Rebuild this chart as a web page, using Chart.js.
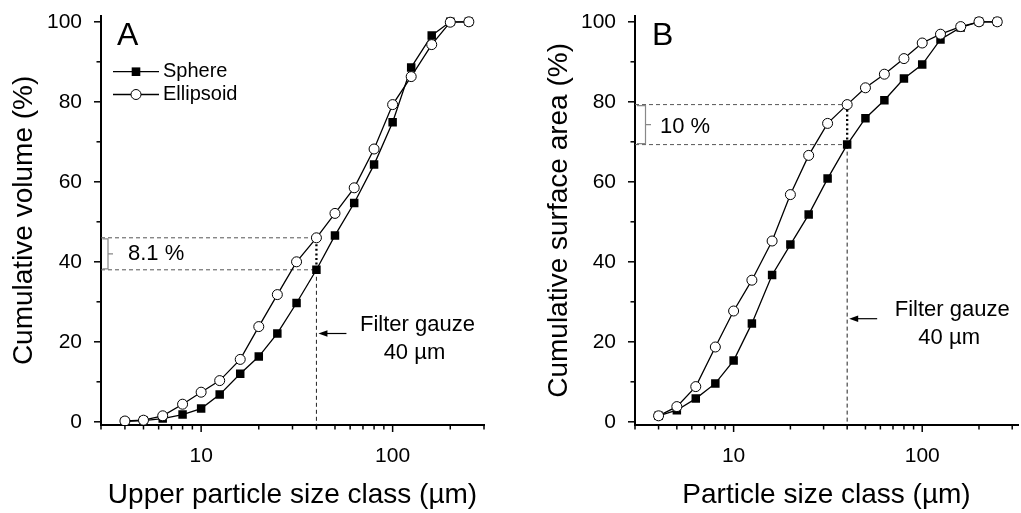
<!DOCTYPE html>
<html>
<head>
<meta charset="utf-8">
<script src="https://cdn.jsdelivr.net/npm/chart.js@4.4.1/dist/chart.umd.min.js"></script>
<style>
html, body { margin: 0; padding: 0; background: #fff; }
#wrap { position: relative; width: 1021px; height: 513px; }
canvas { position: absolute; top: 0; }
</style>
</head>
<body>
<div id="wrap">
  <canvas id="panelA" width="510" height="513" style="left:0"></canvas>
  <canvas id="panelB" width="511" height="513" style="left:510px"></canvas>
</div>
<script>
// size classes (µm)
const sizeClasses = [4, 5, 6.3, 8, 10, 12.5, 16, 20, 25, 31.5, 40, 50, 63, 80, 100, 125, 160, 200, 250];

// A - cumulative volume (%)
const volSphere    = [0.1, 0.3, 0.8, 1.8, 3.3, 6.8, 12.0, 16.3, 22.1, 29.7, 38.0, 46.6, 54.7, 64.3, 74.9, 88.6, 96.6, 100, 100];
const volEllipsoid = [0.2, 0.4, 1.5, 4.4, 7.4, 10.3, 15.6, 23.8, 31.8, 40.0, 46.0, 52.1, 58.5, 68.2, 79.3, 86.3, 94.3, 99.9, 100];

// B - cumulative surface area (%)
const areaSphere    = [1.5, 2.9, 5.8, 9.6, 15.3, 24.6, 36.7, 44.3, 51.8, 60.8, 69.3, 75.9, 80.4, 85.8, 89.3, 95.6, 98.6, 100, 100];
const areaEllipsoid = [1.5, 3.8, 8.8, 18.7, 27.7, 35.4, 45.2, 56.8, 66.6, 74.6, 79.3, 83.5, 86.9, 90.8, 94.7, 96.9, 98.8, 100, 100];

const seriesNames = ["Sphere", "Ellipsoid"];
const xMajorTicks = [10, 100];
const xMinorTicks = [3, 4, 5, 6, 7, 8, 9, 20, 30, 40, 50, 60, 70, 80, 90, 200, 300];
const yMajorTicks = [0, 20, 40, 60, 80, 100];
const yMinorTicks = [10, 30, 50, 70, 90];
const filterSize = 40;

const FONT = "'Liberation Sans', Arial, sans-serif";

function line(ctx, x1, y1, x2, y2) {
    ctx.beginPath();
    ctx.moveTo(x1, y1);
    ctx.lineTo(x2, y2);
    ctx.stroke();
}

const decor = {
    id: "decor",
    beforeDatasetsDraw(chart, args, o) {
        const ctx = chart.ctx, ca = chart.chartArea;
        const x = chart.scales.x, y = chart.scales.y;
        const xf = x.getPixelForValue(filterSize);
        const yLo = y.getPixelForValue(o.lo), yHi = y.getPixelForValue(o.hi);
        ctx.save();
        // dashed guides
        ctx.strokeStyle = "#555";
        ctx.lineWidth = 1;
        ctx.setLineDash([4, 3]);
        line(ctx, ca.left, yHi, xf, yHi);
        line(ctx, ca.left, yLo, xf, yLo);
        ctx.strokeStyle = "#222";
        line(ctx, xf, yLo, xf, ca.bottom);
        // dotted difference
        ctx.strokeStyle = "#000";
        ctx.lineWidth = 2.3;
        ctx.setLineDash([2, 2.6]);
        line(ctx, xf, yLo + 4, xf, yHi + 4);
        ctx.restore();
    },
    afterDraw(chart, args, o) {
        const ctx = chart.ctx, ca = chart.chartArea;
        const x = chart.scales.x, y = chart.scales.y;
        const xf = x.getPixelForValue(filterSize);
        const yLo = y.getPixelForValue(o.lo), yHi = y.getPixelForValue(o.hi);
        ctx.save();
        ctx.setLineDash([]);

        // ticks
        ctx.strokeStyle = "#000";
        ctx.lineWidth = 1.5;
        xMajorTicks.forEach(v => { const p = x.getPixelForValue(v); line(ctx, p, ca.bottom, p, ca.bottom + 7); });
        xMinorTicks.forEach(v => {
            if (v > x.max) return;
            const p = x.getPixelForValue(v); line(ctx, p, ca.bottom, p, ca.bottom + 4.5);
        });
        yMajorTicks.forEach(v => { const p = y.getPixelForValue(v); line(ctx, ca.left - 7, p, ca.left, p); });
        yMinorTicks.forEach(v => { const p = y.getPixelForValue(v); line(ctx, ca.left - 4.5, p, ca.left, p); });

        // bracket
        ctx.strokeStyle = "#888";
        ctx.lineWidth = 1.2;
        const b = o.bracket;
        ctx.beginPath();
        ctx.moveTo(ca.left + b[0], yHi + 1);
        ctx.lineTo(ca.left + b[1], yHi + 1);
        ctx.lineTo(ca.left + b[1], yLo - 1);
        ctx.lineTo(ca.left + b[0], yLo - 1);
        ctx.moveTo(ca.left + b[1], (yHi + yLo) / 2);
        ctx.lineTo(ca.left + b[2], (yHi + yLo) / 2);
        ctx.stroke();

        ctx.fillStyle = "#000";
        ctx.textBaseline = "middle";
        ctx.textAlign = "left";
        ctx.font = "22px " + FONT;
        ctx.fillText(o.diffText, ca.left + o.diffDx, (yHi + yLo) / 2 + o.diffDy);

        // panel letter
        ctx.font = "32px " + FONT;
        ctx.textBaseline = "alphabetic";
        ctx.fillText(o.letter, ca.left + o.letterDx, 45);

        // filter gauze note
        const ty = y.getPixelForValue(o.noteY);
        ctx.font = "22px " + FONT;
        ctx.textAlign = "center";
        ctx.textBaseline = "middle";
        ctx.fillText("Filter gauze", xf + o.noteDx, ty);
        ctx.fillText("40 µm", xf + o.noteDx - 3, ty + 28);
        ctx.strokeStyle = "#000";
        ctx.lineWidth = 1.2;
        const ay = ty + 8.5;
        line(ctx, xf + 30, ay, xf + 8, ay);
        ctx.beginPath();
        ctx.moveTo(xf + 2, ay);
        ctx.lineTo(xf + 11, ay - 3.2);
        ctx.lineTo(xf + 11, ay + 3.2);
        ctx.closePath();
        ctx.fill();

        // legend
        if (o.legend) {
            const rows = [71.7, 94.5];
            chart.data.datasets.forEach((ds, i) => {
                const ry = rows[i];
                ctx.strokeStyle = "#000";
                ctx.lineWidth = 1.3;
                line(ctx, ca.left + 12, ry, ca.left + 58, ry);
                if (ds.pointStyle === "rect") {
                    ctx.fillStyle = "#000";
                    ctx.fillRect(ca.left + 35 - 4.3, ry - 4.3, 8.6, 8.6);
                } else {
                    ctx.beginPath();
                    ctx.arc(ca.left + 35, ry, 5, 0, Math.PI * 2);
                    ctx.fillStyle = "#fff";
                    ctx.fill();
                    ctx.lineWidth = 1;
                    ctx.stroke();
                }
                ctx.fillStyle = "#000";
                ctx.textAlign = "left";
                ctx.font = "20px " + FONT;
                ctx.fillText(ds.label, ca.left + 62, ry);
            });
        }
        ctx.restore();
    }
};

function makePanel(id, cfg) {
    const i40 = sizeClasses.indexOf(filterSize);
    return new Chart(document.getElementById(id), {
        type: "line",
        data: {
            datasets: [
                {
                    label: seriesNames[0],
                    data: sizeClasses.map((s, i) => ({ x: s, y: cfg.sphere[i] })),
                    borderColor: "#000",
                    borderWidth: 1.3,
                    pointStyle: "rect",
                    pointRadius: 6,
                    pointBackgroundColor: "#000",
                    pointBorderColor: "#000",
                    pointBorderWidth: 0,
                    order: 2
                },
                {
                    label: seriesNames[1],
                    data: sizeClasses.map((s, i) => ({ x: s, y: cfg.ellipsoid[i] })),
                    borderColor: "#000",
                    borderWidth: 1.3,
                    pointStyle: "circle",
                    pointRadius: 5,
                    pointBackgroundColor: "#fff",
                    pointBorderColor: "#000",
                    pointBorderWidth: 1,
                    order: 1
                }
            ]
        },
        options: {
            responsive: false,
            animation: false,
            devicePixelRatio: 1,
            layout: { autoPadding: false, padding: { top: 15.8, right: cfg.right, left: 0, bottom: 0 } },
            plugins: {
                legend: { display: false },
                tooltip: { enabled: false },
                decor: {
                    lo: cfg.sphere[i40],
                    hi: cfg.ellipsoid[i40],
                    letter: cfg.letter,
                    letterDx: cfg.letterDx,
                    diffText: cfg.diffText,
                    diffDx: cfg.diffDx,
                    diffDy: cfg.diffDy,
                    bracket: cfg.bracket,
                    noteY: cfg.noteY,
                    noteDx: cfg.noteDx,
                    legend: cfg.legend
                }
            },
            scales: {
                x: {
                    type: "logarithmic",
                    min: 3,
                    max: cfg.xMax,
                    afterBuildTicks(s) { s.ticks = xMajorTicks.map(v => ({ value: v, major: true })); },
                    afterFit(s) { s.height = 88; s.paddingLeft = 0; s.paddingRight = 0; },
                    grid: { display: true, drawOnChartArea: false, drawTicks: true, tickLength: 7, tickColor: "rgba(0,0,0,0)" },
                    border: { display: true, color: "#000", width: 2 },
                    ticks: {
                        autoSkip: false, maxRotation: 0, padding: 12,
                        color: "#000", font: { family: FONT, size: 21 },
                        callback: v => String(v)
                    },
                    title: {
                        display: true, text: cfg.xTitle, color: "#000",
                        font: { family: FONT, size: 28 }, padding: { top: 0, bottom: 1 }
                    }
                },
                y: {
                    type: "linear",
                    min: -0.8,
                    max: 101.5,
                    afterBuildTicks(s) { s.ticks = yMajorTicks.map(v => ({ value: v })); },
                    afterFit(s) { s.width = cfg.yWidth; s.paddingTop = 0; s.paddingBottom = 0; },
                    grid: { display: true, drawOnChartArea: false, drawTicks: true, tickLength: 7, tickColor: "rgba(0,0,0,0)" },
                    border: { display: true, color: "#000", width: 2 },
                    ticks: {
                        padding: 12, color: "#000", font: { family: FONT, size: 21 }
                    },
                    title: {
                        display: true, text: cfg.yTitle, color: "#000",
                        font: { family: FONT, size: 28 }, padding: { top: cfg.yTitlePad, bottom: 0 }
                    }
                }
            }
        },
        plugins: [decor]
    });
}

makePanel("panelA", {
    sphere: volSphere, ellipsoid: volEllipsoid,
    xTitle: "Upper particle size class (µm)",
    yTitle: "Cumulative volume (%)",
    xMax: 300, right: 26, yWidth: 101, yTitlePad: 7,
    letter: "A", letterDx: 16,
    diffText: "8.1 %", diffDx: 27, diffDy: 0,
    bracket: [1.5, 7, 12],
    noteY: 24.2, noteDx: 101,
    legend: true
});

makePanel("panelB", {
    sphere: areaSphere, ellipsoid: areaEllipsoid,
    xTitle: "Particle size class (µm)",
    yTitle: "Cumulative surface area (%)",
    xMax: 322, right: 3, yWidth: 125, yTitlePad: 32,
    letter: "B", letterDx: 17,
    diffText: "10 %", diffDx: 25, diffDy: 2,
    bracket: [2, 10.5, 16],
    noteY: 27.9, noteDx: 105,
    legend: false
});
</script>
</body>
</html>
